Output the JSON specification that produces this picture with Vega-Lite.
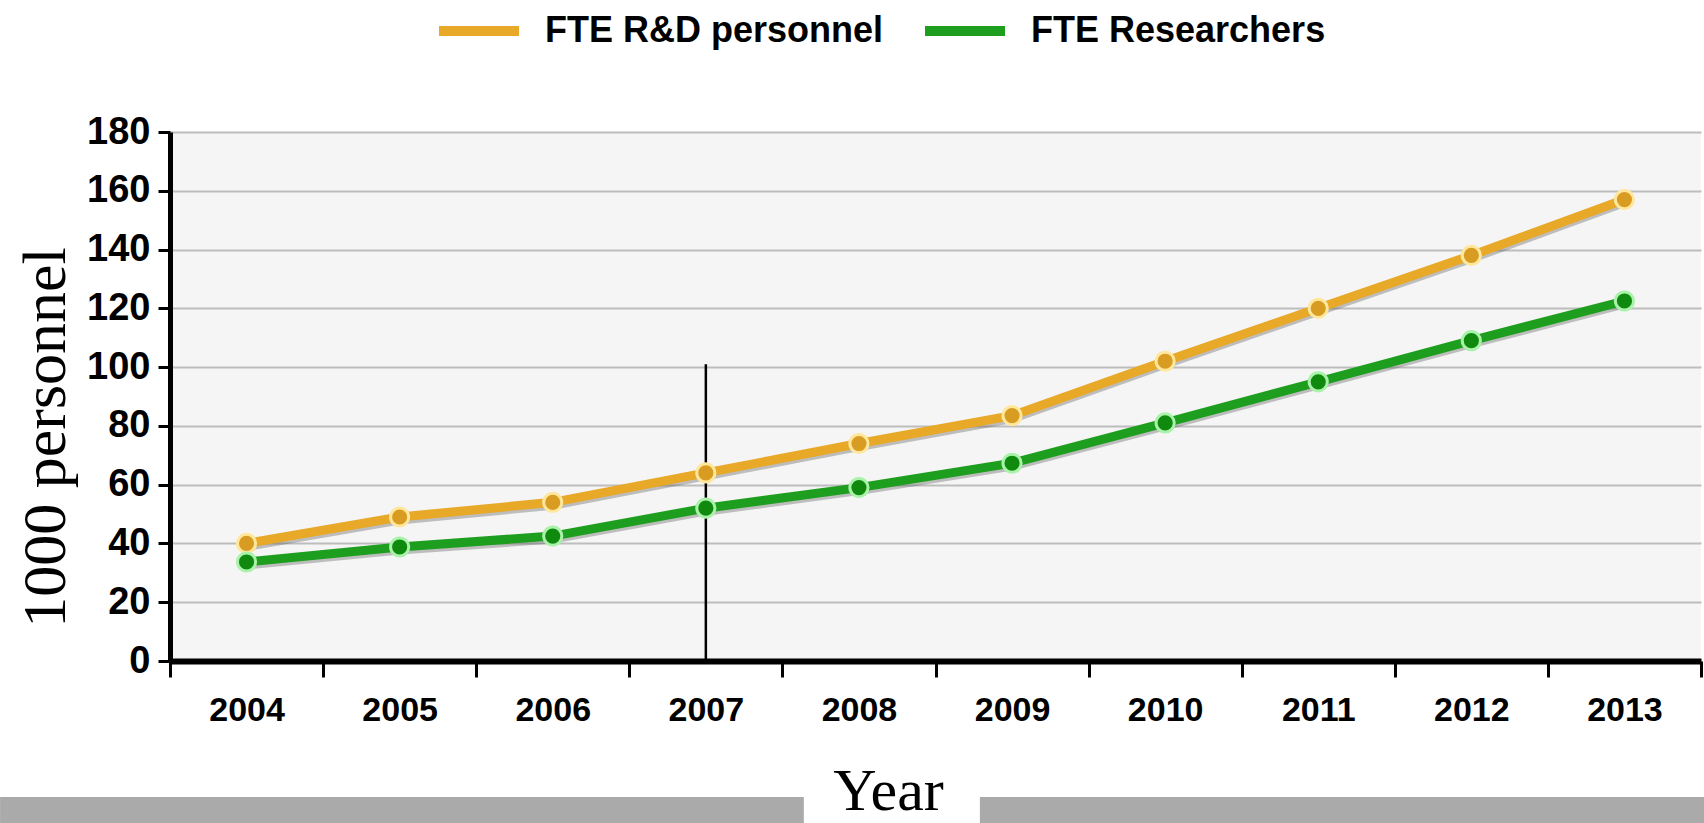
{
  "$schema": "https://vega.github.io/schema/vega-lite/v6.json",
  "width": 1531,
  "height": 529,
  "autosize": "none",
  "padding": {"left": 170, "top": 132, "right": 3, "bottom": 162},
  "background": "white",
  "config": {"view": {"stroke": null, "fill": "#f5f5f5"}, "font": "Liberation Sans"},
  "datasets": {
    "fte": [
      {"year": 2004, "series": "FTE R&D personnel", "value": 40},
      {"year": 2005, "series": "FTE R&D personnel", "value": 49},
      {"year": 2006, "series": "FTE R&D personnel", "value": 54},
      {"year": 2007, "series": "FTE R&D personnel", "value": 64},
      {"year": 2008, "series": "FTE R&D personnel", "value": 74},
      {"year": 2009, "series": "FTE R&D personnel", "value": 83.5},
      {"year": 2010, "series": "FTE R&D personnel", "value": 102},
      {"year": 2011, "series": "FTE R&D personnel", "value": 120},
      {"year": 2012, "series": "FTE R&D personnel", "value": 138},
      {"year": 2013, "series": "FTE R&D personnel", "value": 157},
      {"year": 2004, "series": "FTE Researchers", "value": 33.7},
      {"year": 2005, "series": "FTE Researchers", "value": 38.8},
      {"year": 2006, "series": "FTE Researchers", "value": 42.5},
      {"year": 2007, "series": "FTE Researchers", "value": 52},
      {"year": 2008, "series": "FTE Researchers", "value": 59},
      {"year": 2009, "series": "FTE Researchers", "value": 67.3},
      {"year": 2010, "series": "FTE Researchers", "value": 81},
      {"year": 2011, "series": "FTE Researchers", "value": 95},
      {"year": 2012, "series": "FTE Researchers", "value": 109},
      {"year": 2013, "series": "FTE Researchers", "value": 122.5}
    ],
    "one": [{}]
  },
  "layer": [
    {
      "data": {"name": "fte"},
      "mark": {"type": "line", "strokeWidth": 9, "color": "#555555", "opacity": 0.35, "yOffset": 3, "strokeCap": "round"},
      "encoding": {
        "x": {
          "field": "year",
          "type": "quantitative",
          "scale": {"domain": [2003.5, 2013.5], "nice": false, "zero": false},
          "axis": {
            "values": [2003.5, 2004, 2004.5, 2005, 2005.5, 2006, 2006.5, 2007, 2007.5, 2008, 2008.5, 2009, 2009.5, 2010, 2010.5, 2011, 2011.5, 2012, 2012.5, 2013, 2013.5],
            "grid": false,
            "domain": true,
            "domainColor": "black",
            "domainWidth": 6,
            "ticks": true,
            "tickColor": "black",
            "tickWidth": 3,
            "tickSize": 16,
            "tickOpacity": {"condition": {"test": "datum.value % 1 != 0", "value": 1}, "value": 0},
            "labelExpr": "datum.value % 1 == 0 ? '' + datum.value : ''",
            "labelFont": "Liberation Sans",
            "labelFontWeight": "bold",
            "labelFontSize": 34,
            "labelColor": "black",
            "labelPadding": 16,
            "labelOverlap": false,
            "labelFlush": false,
            "title": "Year",
            "titleFont": "Liberation Serif",
            "titleFontWeight": "normal",
            "titleFontSize": 60,
            "titleColor": "black",
            "titleX": 718,
            "titleY": 148,
            "titleAlign": "center",
            "titleBaseline": "alphabetic"
          }
        },
        "y": {
          "field": "value",
          "type": "quantitative",
          "scale": {"domain": [0, 180], "nice": false},
          "axis": {
            "values": [0, 10, 20, 30, 40, 50, 60, 70, 80, 90, 100, 110, 120, 130, 140, 150, 160, 170, 180],
            "grid": true,
            "gridColor": "#bdbdbd",
            "gridWidth": 2,
            "domain": true,
            "domainColor": "black",
            "domainWidth": 5,
            "ticks": true,
            "tickColor": "black",
            "tickWidth": 3,
            "tickSize": 12,
            "tickOpacity": {"condition": {"test": "datum.value % 20 == 0", "value": 1}, "value": 0},
            "labelExpr": "datum.value % 20 == 0 ? '' + datum.value : ''",
            "labelFont": "Liberation Sans",
            "labelFontWeight": "bold",
            "labelFontSize": 38,
            "labelColor": "black",
            "labelPadding": 8,
            "labelOverlap": false,
            "labelFlush": false,
            "title": "1000 personnel",
            "titleFont": "Liberation Serif",
            "titleFontWeight": "normal",
            "titleFontSize": 62,
            "titleColor": "black",
            "titleAngle": -90,
            "titleX": -125,
            "titleY": 305,
            "titleAlign": "center",
            "titleBaseline": "middle"
          }
        },
        "detail": {"field": "series"}
      }
    },
    {
      "data": {"name": "fte"},
      "mark": {"type": "line", "strokeWidth": 9, "strokeCap": "round"},
      "encoding": {
        "x": {"field": "year", "type": "quantitative"},
        "y": {"field": "value", "type": "quantitative"},
        "color": {
          "field": "series",
          "type": "nominal",
          "scale": {"domain": ["FTE R&D personnel", "FTE Researchers"], "range": ["#e8a828", "#1e9e1e"]},
          "legend": {
            "orient": "none",
            "legendX": 264,
            "legendY": -146,
            "direction": "horizontal",
            "title": null,
            "symbolType": "stroke",
            "symbolSize": 6400,
            "symbolStrokeWidth": 10,
            "symbolOpacity": 1,
            "labelFont": "Liberation Sans",
            "labelFontWeight": "bold",
            "labelFontSize": 36,
            "labelColor": "black",
            "labelOffset": 21,
            "columnPadding": 21,
            "labelLimit": 0
          }
        }
      }
    },
    {
      "data": {"name": "one"},
      "mark": {"type": "rule", "color": "black", "strokeWidth": 2.5},
      "encoding": {
        "x": {"datum": 2007, "type": "quantitative"},
        "y": {"datum": 0, "type": "quantitative"},
        "y2": {"datum": 101}
      }
    },
    {
      "data": {"name": "fte"},
      "mark": {"type": "point", "filled": true, "size": 330, "strokeWidth": 3, "opacity": 1},
      "encoding": {
        "x": {"field": "year", "type": "quantitative"},
        "y": {"field": "value", "type": "quantitative"},
        "color": {
          "field": "series",
          "type": "nominal",
          "legend": null
        },
        "fill": {
          "field": "series",
          "type": "nominal",
          "scale": {"domain": ["FTE R&D personnel", "FTE Researchers"], "range": ["#d99c22", "#0f8a0f"]},
          "legend": null
        },
        "stroke": {
          "field": "series",
          "type": "nominal",
          "scale": {"domain": ["FTE R&D personnel", "FTE Researchers"], "range": ["#ffe79e", "#aaf2aa"]},
          "legend": null
        }
      }
    },
    {
      "data": {"name": "one"},
      "mark": {"type": "rect", "color": "#aaaaaa", "clip": false},
      "encoding": {
        "x": {"datum": 2002.39, "type": "quantitative"},
        "x2": {"datum": 2007.64},
        "y": {"datum": -46.3, "type": "quantitative"},
        "y2": {"datum": -55.1}
      }
    },
    {
      "data": {"name": "one"},
      "mark": {"type": "rect", "color": "#aaaaaa", "clip": false},
      "encoding": {
        "x": {"datum": 2008.79, "type": "quantitative"},
        "x2": {"datum": 2013.52},
        "y": {"datum": -46.3, "type": "quantitative"},
        "y2": {"datum": -55.1}
      }
    }
  ]
}
